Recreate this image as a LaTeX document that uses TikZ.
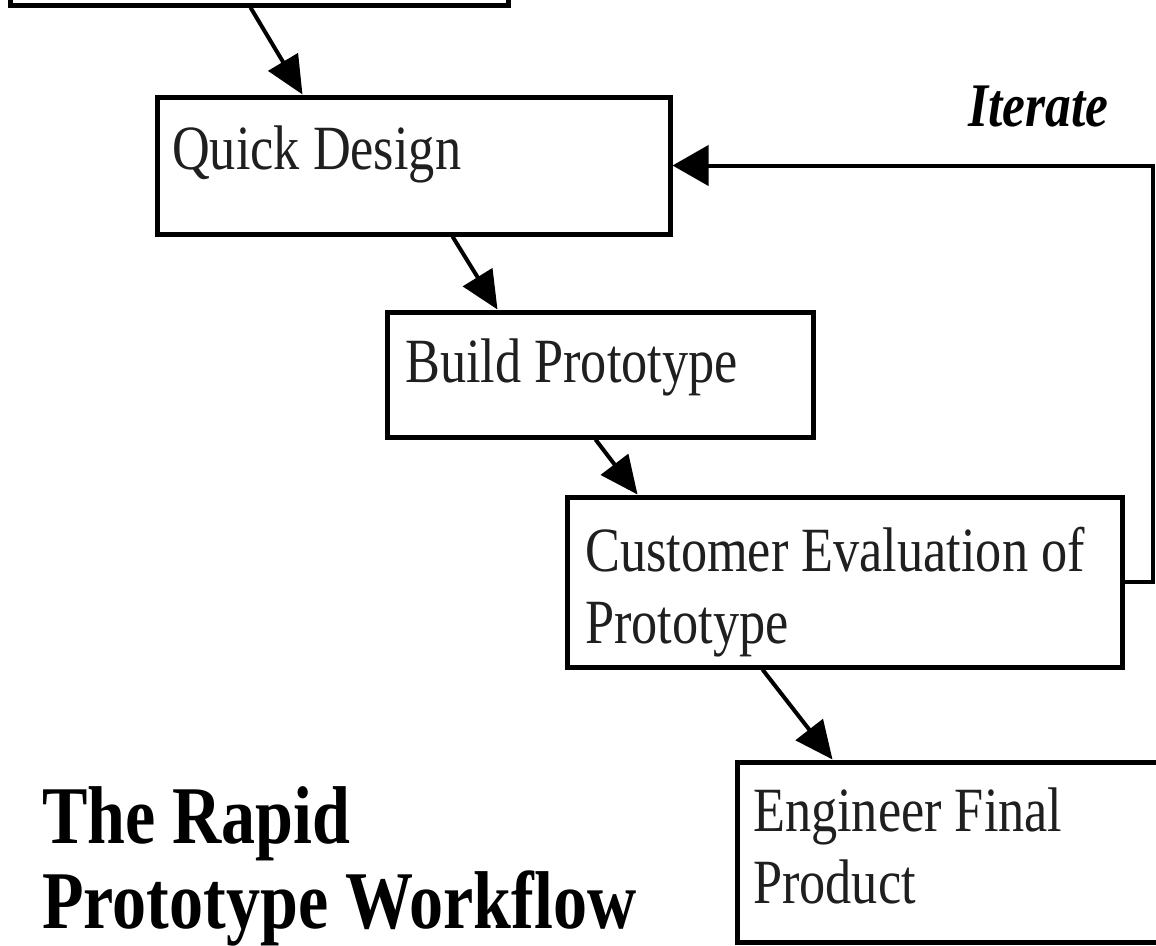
\documentclass[tikz,border=0pt]{standalone}
\usepackage{fontspec}
\setmainfont{Liberation Serif}[FakeStretch=0.83]
\usetikzlibrary{arrows.meta,calc}
\definecolor{ink}{gray}{0.12}
\begin{document}
\begin{tikzpicture}[x=1pt,y=-1pt,
  box/.style={draw=black, line width=5pt, rectangle, inner sep=0pt, fill=white},
  txt/.style={text=ink, font=\fontsize{63}{72}\selectfont, align=left, inner sep=0pt, anchor=base west},
  arr/.style={line width=4pt, -{Triangle[length=38pt,width=34pt]}},
]
\useasboundingbox (0,0) rectangle (1156,945);
\clip (0,0) rectangle (1156,945);
% boxes
\node[box, minimum width=498pt, minimum height=100pt] (top) at (259,-45) {};
\node[box, minimum width=513pt, minimum height=137pt] (qd) at (413.5,165.5) {};
\node[box, minimum width=426pt, minimum height=125pt] (bp) at (600,374.5) {};
\node[box, minimum width=555pt, minimum height=170pt] (ce) at (844.5,582) {};
\node[box, minimum width=443pt, minimum height=180pt] (ef) at (958.5,852) {};
% texts (multi-line nodes: base = last line)
\node[txt] (tqd) at (172,169) {Quick Design};
\node[txt] (tbp) at (405,382) {Build Prototype};
\node[txt] (tce) at (585,643) {Customer Evaluation of\\Prototype};
\node[txt] (tef) at (753,903) {Engineer Final\\Product};
\node[txt, text=black, font=\bfseries\itshape\fontsize{62}{71}\selectfont] (it) at (968,126) {Iterate};
\node[txt, text=black, font=\bfseries\fontsize{82}{85}\selectfont] (title) at (42,928) {The Rapid\\Prototype Workflow};
% arrows
\draw[arr] ([xshift=243pt]top.south west) -- ([xshift=148pt]qd.north west);
\draw[arr] ([xshift=298pt]qd.south west) -- ([xshift=113pt]bp.north west);
\draw[arr] ([xshift=211pt]bp.south west) -- ([xshift=73pt]ce.north west);
\draw[arr] ([xshift=198pt]ce.south west) -- ([xshift=98pt]ef.north west);
% iterate loop
\coordinate (rail) at (1153,0);
\draw[line width=4pt, -{Triangle[length=36pt,width=40pt]}] (ce.east) -- (ce.east -| rail) -- (qd.east -| rail) -- (qd.east);
\end{tikzpicture}
\end{document}
